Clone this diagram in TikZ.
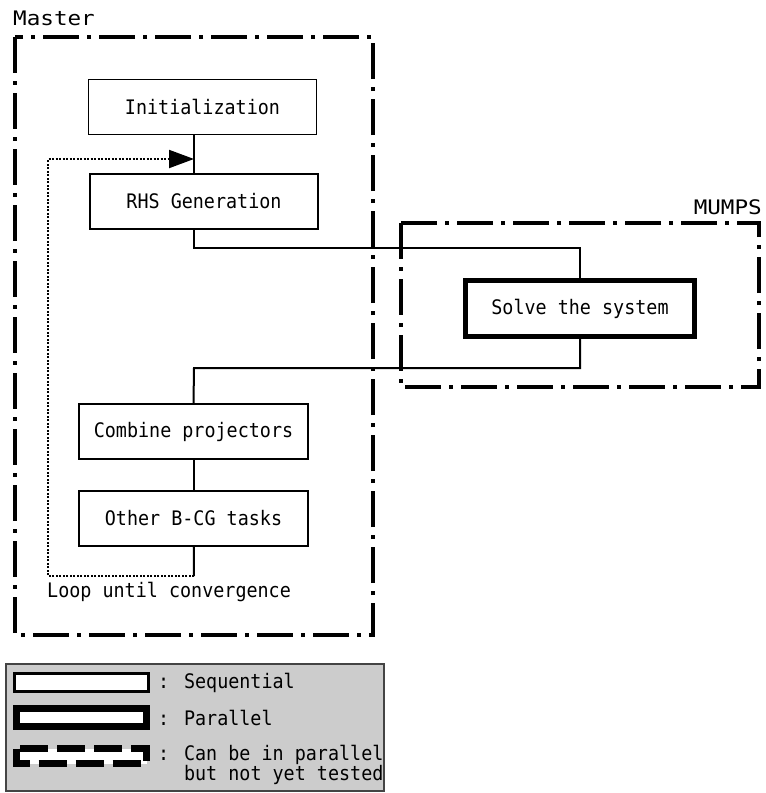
\documentclass[tikz,border=0pt]{standalone}
\usepackage{fontspec}
\setmainfont{DejaVu Sans Mono}[FakeStretch=0.92]
\newfontfamily\widemono{DejaVu Sans Mono}[FakeStretch=1.13]
\usetikzlibrary{arrows.meta}
\definecolor{legendgray}{HTML}{CCCCCC}
\definecolor{legendline}{HTML}{444444}

\begin{document}
\begin{tikzpicture}[x=1pt, y=-1pt, font=\fontsize{20}{20}\selectfont,
	seqtask/.style={rectangle, draw, line width=1.5pt, minimum width=228pt, minimum height=55pt, inner sep=0pt},
	partask/.style={rectangle, draw, line width=5pt, minimum width=229pt, minimum height=56pt, inner sep=0pt},
	wire/.style={line width=2pt},
	loopwire/.style={line width=2pt, dash pattern=on 2pt off 1.5pt},
	zone/.style={line width=4pt, dash pattern=on 36pt off 8pt on 4pt off 8pt},
	caption/.style={inner sep=0pt},
	zonename/.style={inner sep=0pt, font=\widemono\fontsize{20}{20}\selectfont}]

\useasboundingbox (0,0) rectangle (766,793);

	% zones
	\draw [zone] (15,37) rectangle (373,635);
	\draw [zone] (401,223) rectangle (759,387);
	\node [zonename, anchor=west] (MasterL) at (13,18) {Master};
	\node [zonename, anchor=east] (MumpsL) at (762,207) {MUMPS};

	\node [seqtask] (Init) at (202.5,107) {Initialization};
	\node [seqtask] (RHS) at (204,201.5) {RHS Generation};
	\node [partask] (Solve) at (580,308.5) {Solve the system};
	\node [seqtask, minimum width=229pt] (Comb) at (193.5,431.5) {Combine projectors};
	\node [seqtask, minimum width=229pt] (Other) at (193.5,518.5) {Other B-CG tasks};

	\coordinate (Arr) at (194,159);
	\coordinate (Up) at (580,248);
	\coordinate (Down) at (194,368);
	\coordinate (Lp) at (194,576);
	\coordinate (Lc) at (48,159);

	\draw [wire] (Init.south -| Comb) -- (RHS.north -| Comb);
	\draw [wire] (RHS.south -| Comb) |- (Up) -- (Solve.north);
	\draw [wire] (Solve.south) |- (Down) -- (Comb.north);
	\draw [wire] (Comb) -- (Other);
	\draw [wire] (Other) -- (Lp);
	\draw [loopwire, -{Triangle[length=25pt, width=18pt]}] (Lp) -| (Lc) -- (Arr);
	\node [caption, anchor=west] (LoopL) at (47,592) {Loop until convergence};

	% legend
	\draw [fill=legendgray, draw=legendline, line width=1.5pt] (6,664) rectangle (384,791);
	\draw [line width=3pt, fill=white] (14.5,673.5) rectangle (148.5,691.5);
	\draw [line width=7pt, fill=white] (16.5,708.5) rectangle (146.5,726.5);
	\draw [line width=7pt, fill=white, dash pattern=on 28pt off 9pt] (16.5,748.5) rectangle (146.5,763.5);
	\node [caption, anchor=west] (SeqL) at (158,682.5) {: Sequential};
	\node [caption, anchor=west] (ParL) at (158,717.5) {: Parallel};
	\node [caption, anchor=west, align=left] (TodoL) at (158,765) {: Can be in parallel\\\phantom{: }but not yet tested};

\end{tikzpicture}
\end{document}
